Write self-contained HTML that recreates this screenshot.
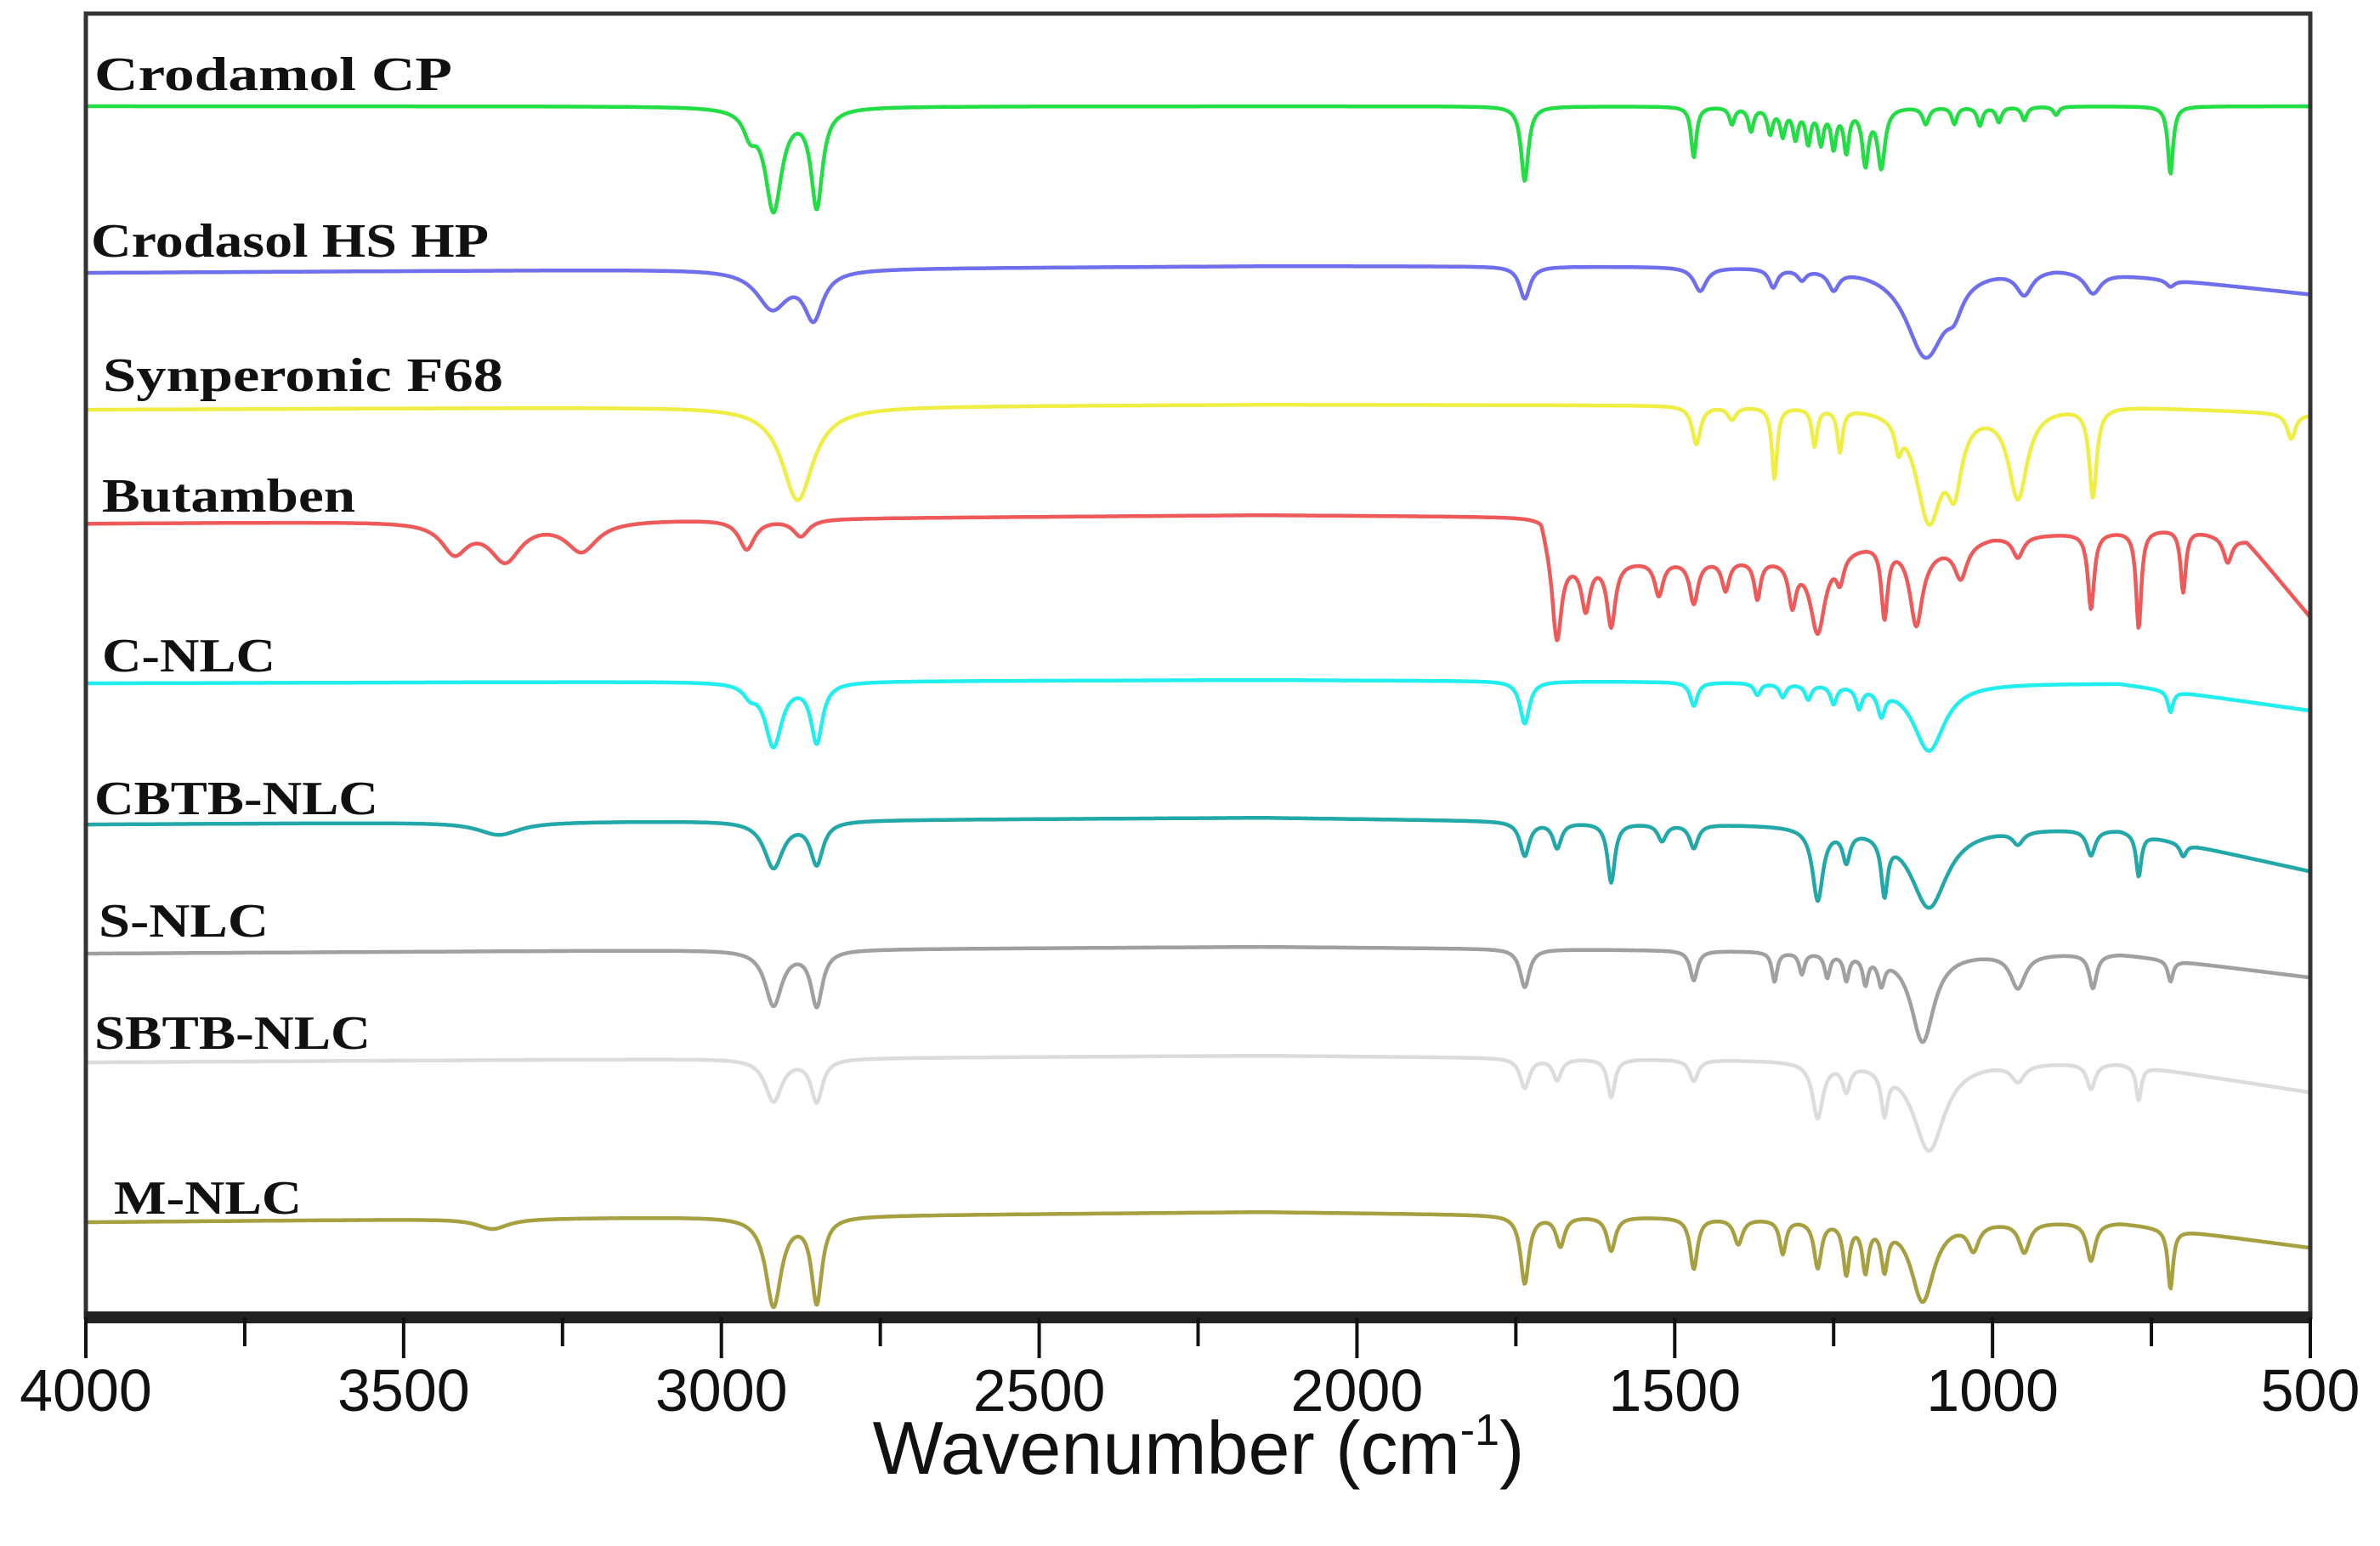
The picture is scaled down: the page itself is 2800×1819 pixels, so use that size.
<!DOCTYPE html>
<html><head><meta charset="utf-8"><style>
html,body{margin:0;padding:0;background:#fff;}
svg{display:block;}
</style></head><body>
<svg id="chart" width="2800" height="1819" viewBox="0 0 2800 1819" xmlns="http://www.w3.org/2000/svg">
<rect x="0" y="0" width="2800" height="1819" fill="#fff"/>
<g id="series"></g>
<rect x="101" y="16" width="2617" height="1534" fill="none" stroke="#333" stroke-width="5"/>
<line x1="99" y1="1550" x2="2720" y2="1550" stroke="#222" stroke-width="14"/>
<g id="ticks"></g>
<text x="1410" y="1734" text-anchor="middle" font-family="Liberation Sans, sans-serif" font-size="88" fill="#111">Wavenumber (cm<tspan dy="-34" font-size="52">-1</tspan><tspan dy="34">)</tspan></text>
</svg>
<script>
const xTicks=[4000,3500,3000,2500,2000,1500,1000,500];
const xMinor=[3750,3250,2750,2250,1750,1250,750];
const names=["Crodamol CP","Crodasol HS HP","Synperonic F68","Butamben","C-NLC","CBTB-NLC","S-NLC","SBTB-NLC","M-NLC"];
const colors=["#22dd44","#6f6fee","#eeee44","#ee5a5a","#22eeee","#22a8a8","#a0a0a0","#dcdcdc","#a6a040"];
const baselines=[125,321,482,616,804,970,1122,1250,1438];
const labelPos=[[111,106],[107,302],[121,460],[120,602],[120,790],[111,958],[116,1102],[111,1234],[134,1428]];
const labelWidths=[421,468,471,298,204,334,200,325,221];
// peaks: [wavenumber, depth(px), halfwidth(cm-1)]
const peaks0=[[2955,25,12],[2918,120,16],[2850,115,11],[1736,88,7],[1470,60,5],[1410,20,5],[1380,28,5],[1350,30,5],[1330,32,5],[1310,35,5],[1290,40,5],[1270,40,5],[1250,45,5],[1230,50,5],[1200,65,6],[1175,70,7],[1105,20,6],[1060,20,5],[1020,22,5],[990,18,5],[950,16,5],[900,10,5],[720,80,5]];
const peaks1=[[2920,45,30],[2855,55,18],[1736,38,10],[1460,28,12],[1345,22,8],[1300,12,8],[1250,22,10],[1105,105,38],[1060,25,15],[950,28,15],[842,25,15],[720,8,8]];
const peaks2=[[2880,110,30],[1466,45,8],[1410,15,8],[1343,85,5],[1280,45,5],[1240,50,5],[1148,30,6],[1100,130,25],[1060,75,14],[960,105,18],[842,105,7],[530,30,8]];
const peaks3=[[3420,35,25],[3340,45,30],[3220,35,30],[2960,35,15],[2875,20,15],[1685,90,8],[1640,55,8],[1600,75,8],[1525,40,8],[1470,50,8],[1420,35,7],[1370,45,6],[1315,50,7],[1275,90,14],[1240,30,7],[1170,85,6],[1120,90,12],[1050,40,12],[960,25,10],[845,90,6],[770,115,5],[700,75,5],[630,30,8]];
const peaks4=[[2955,12,12],[2918,75,16],[2850,70,11],[1736,50,9],[1470,28,7],[1370,14,6],[1330,16,6],[1290,18,6],[1250,22,6],[1210,25,6],[1175,30,7],[1100,80,30],[720,25,5]];
const peaks5=[[3350,15,40],[2918,55,18],[2850,50,12],[1736,40,9],[1685,30,8],[1600,70,7],[1520,20,8],[1470,28,8],[1275,85,10],[1230,35,7],[1170,65,6],[1100,95,35],[960,15,10],[845,30,8],[770,50,5],[700,15,6]];
const peaks6=[[2918,65,16],[2850,65,11],[1736,45,9],[1470,35,7],[1343,35,5],[1300,25,5],[1260,28,5],[1230,30,5],[1200,32,5],[1175,30,6],[1110,105,22],[960,40,14],[842,40,7],[720,25,5]];
const peaks7=[[2918,50,16],[2850,50,11],[1736,35,9],[1685,25,8],[1600,45,7],[1470,25,8],[1275,65,10],[1230,30,7],[1170,50,6],[1100,105,30],[960,20,12],[845,30,8],[770,40,5]];
const peaks8=[[3360,12,30],[2918,105,15],[2850,100,10],[1736,80,8],[1680,35,8],[1600,40,8],[1470,60,7],[1400,30,8],[1330,40,6],[1275,55,7],[1230,60,6],[1200,55,6],[1170,50,6],[1110,95,22],[1030,30,10],[950,35,10],[845,45,8],[720,70,5]];
// baseline drift: [wavenumber, offset px]
const drift0=[[4000,0],[500,0]];
const drift1=[[4000,0],[2150,-8],[900,-8],[500,25]];
const drift2=[[4000,0],[2150,-6],[800,-5],[500,5]];
const drift3=[[4000,0],[2150,-10],[1710,-8],[1690,45],[1300,40],[1180,20],[1100,30],[1000,15],[700,5],[600,20],[500,110]];
const drift4=[[4000,0],[2150,-4],[800,0],[500,32]];
const drift5=[[4000,0],[2150,-8],[800,5],[500,55]];
const drift6=[[4000,0],[2150,-8],[800,0],[500,28]];
const drift7=[[4000,0],[2150,-8],[800,0],[500,35]];
const drift8=[[4000,0],[2150,-12],[800,0],[500,30]];
const allPeaks=[peaks0,peaks1,peaks2,peaks3,peaks4,peaks5,peaks6,peaks7,peaks8];
const allDrift=[drift0,drift1,drift2,drift3,drift4,drift5,drift6,drift7,drift8];

const NS="http://www.w3.org/2000/svg";
const X0=101,X1=2718;
function xScale(w){return X0+(4000-w)/3500*(X1-X0);}
function driftAt(d,w){for(let i=0;i<d.length-1;i++){const a=d[i],b=d[i+1];if(w<=a[0]&&w>=b[0]){const t=(a[0]-w)/(a[0]-b[0]);return a[1]+t*(b[1]-a[1]);}}return 0;}
function yVal(i,w){let y=baselines[i]+driftAt(allDrift[i],w);for(const p of allPeaks[i]){const u=(w-p[0])/p[2];y+=p[1]/(1+u*u);}return y;}
const g=document.getElementById('series');
for(let i=0;i<names.length;i++){
  let d="";
  for(let w=4000;w>=500;w-=1.5){d+=(d?"L":"M")+xScale(w).toFixed(1)+","+yVal(i,w).toFixed(1);}
  const p=document.createElementNS(NS,'path');
  p.setAttribute('d',d);p.setAttribute('fill','none');p.setAttribute('stroke',colors[i]);p.setAttribute('stroke-width','4.5');p.setAttribute('stroke-linejoin','round');
  
  
  g.appendChild(p);
  const t=document.createElementNS(NS,'text');
  t.setAttribute('x',labelPos[i][0]);t.setAttribute('y',labelPos[i][1]);
  t.setAttribute('font-family','Liberation Serif, serif');t.setAttribute('font-weight','bold');t.setAttribute('font-size','56');t.setAttribute('fill','#111');
  t.setAttribute('textLength',labelWidths[i]);t.setAttribute('lengthAdjust','spacingAndGlyphs');
  t.textContent=names[i];
  
  
  g.appendChild(t);
}
const tg=document.getElementById('ticks');
for(const v of xTicks){
  const l=document.createElementNS(NS,'line');
  l.setAttribute('x1',xScale(v));l.setAttribute('x2',xScale(v));l.setAttribute('y1',1550);l.setAttribute('y2',1598);l.setAttribute('stroke','#111');l.setAttribute('stroke-width','4');
  
  
  tg.appendChild(l);
  const t=document.createElementNS(NS,'text');
  t.setAttribute('x',xScale(v));t.setAttribute('y',1660);t.setAttribute('text-anchor','middle');
  t.setAttribute('font-family','Liberation Sans, sans-serif');t.setAttribute('font-size','70');t.setAttribute('fill','#111');
  t.textContent=v;
  
  
  tg.appendChild(t);
}
for(const v of xMinor){
  const l=document.createElementNS(NS,'line');
  l.setAttribute('x1',xScale(v));l.setAttribute('x2',xScale(v));l.setAttribute('y1',1550);l.setAttribute('y2',1584);l.setAttribute('stroke','#111');l.setAttribute('stroke-width','4');
  
  
  tg.appendChild(l);
}
</script>
</body></html>
